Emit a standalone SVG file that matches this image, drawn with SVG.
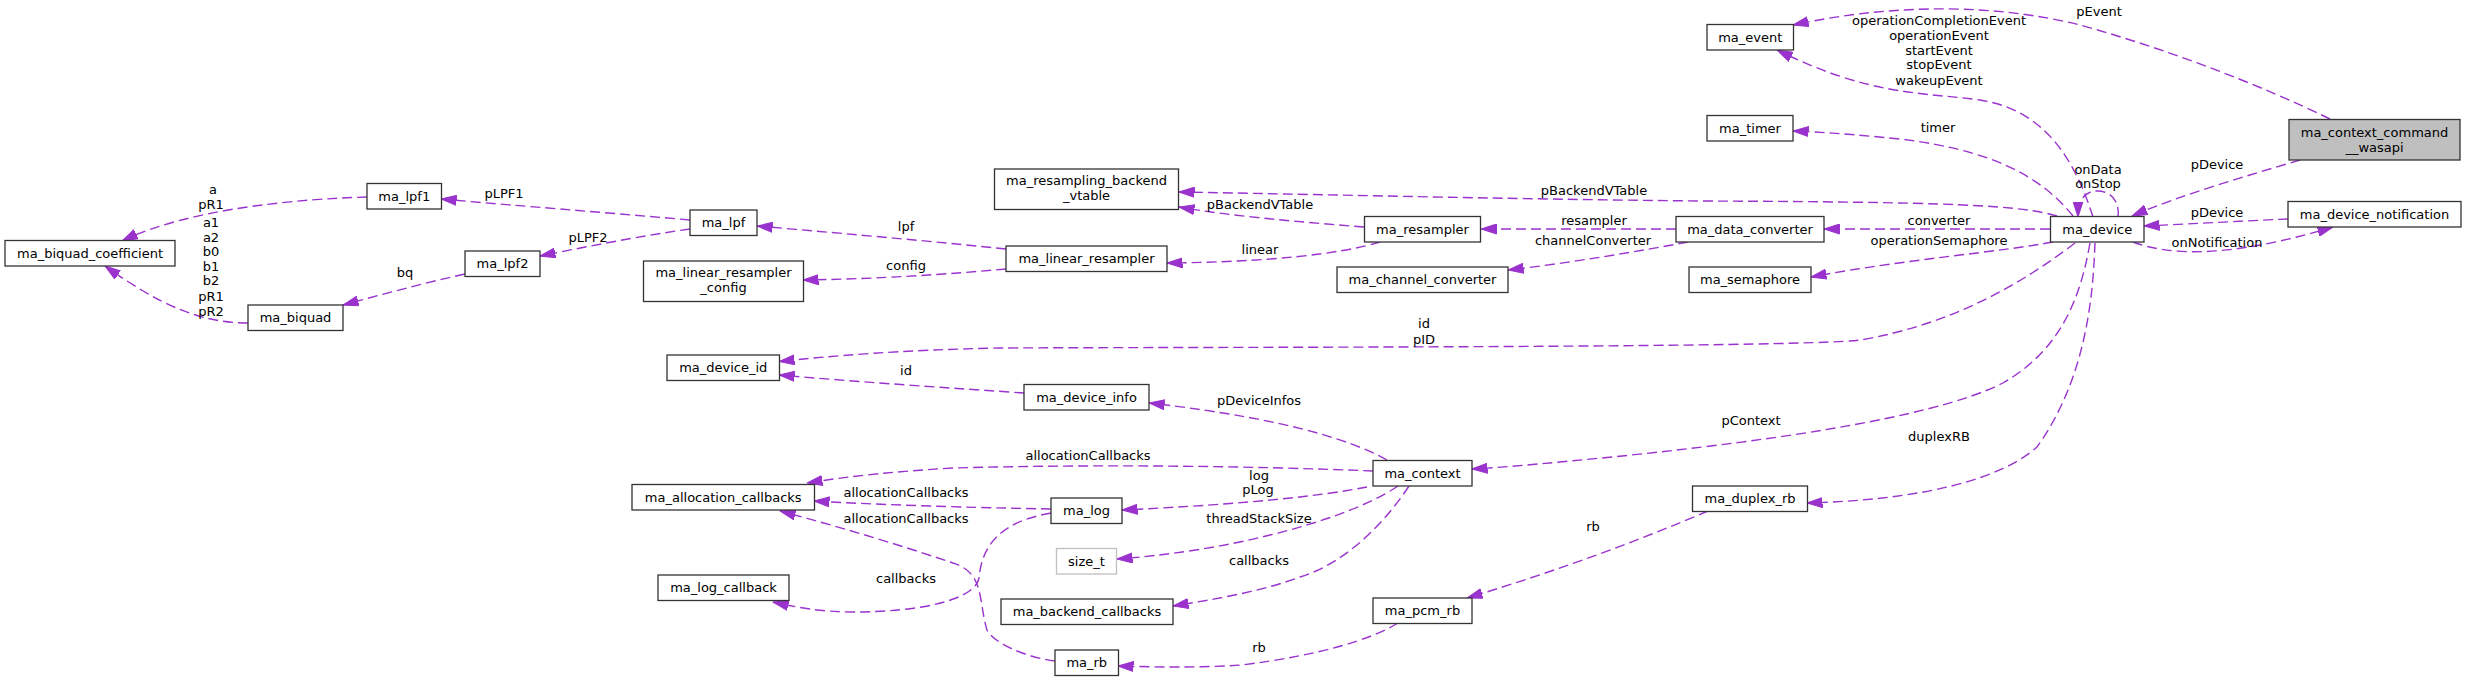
<svg xmlns="http://www.w3.org/2000/svg" width="2467" height="681" viewBox="0 0 2467 681">
<defs>
<style>
.n rect{fill:#fff;stroke:#333;stroke-width:1.3}
.n text,.l text{font-family:"DejaVu Sans","Liberation Sans",sans-serif;font-size:13px;text-anchor:middle;fill:#000}
.e path{fill:none;stroke:#9a32cd;stroke-width:1.4;stroke-dasharray:10,5;marker-end:url(#ah)}
</style>
<marker id="ah" markerWidth="16" markerHeight="11" refX="15.5" refY="5.5" orient="auto" markerUnits="userSpaceOnUse"><path d="M0,0.5 L15.5,5.5 L0,10.5 z" fill="#9a32cd" stroke="#9a32cd" stroke-width="1"/></marker>
</defs>
<rect width="2467" height="681" fill="#fff"/>
<g class="e" id="edges">
<path d="M367,197 C300,199 190,208 122,241"/>
<path d="M248,323 C200,323 160,305 105,266"/>
<path d="M465,274 C420,284 380,295 343,305"/>
<path d="M690,220 C600,212 520,206 441,199"/>
<path d="M690,229 C640,236 590,246 540,256"/>
<path d="M1006,249 C950,243 850,234 757,226"/>
<path d="M1006,269 C950,274 880,279 803,280"/>
<path d="M1364,227 C1300,222 1230,216 1179,207"/>
<path d="M1380,242 C1340,254 1270,262 1167,263"/>
<path d="M1676,229 L1481,229"/>
<path d="M1688,242 C1640,251 1570,263 1508,270"/>
<path d="M2050,229 L1824,229"/>
<path d="M2053,242 C2000,252 1900,260 1811,277"/>
<path d="M2057,216 C2020,205 1950,202 1700,201 C1500,199 1300,194 1179,192"/>
<path d="M2093,217 C2075,160 2045,110 1980,100 C1920,92 1870,96 1777,50"/>
<path d="M2073,216 C2040,175 1990,150 1900,139 C1850,134 1820,132 1793,131"/>
<path d="M2118,217 C2120,200 2110,191 2097,191 C2085,191 2078,200 2078,217"/>
<path d="M2330,119 C2260,85 2170,50 2080,25 C2000,5 1900,2 1793,25"/>
<path d="M2300,160 C2250,175 2180,195 2132,216"/>
<path d="M2288,219 C2240,221 2190,224 2144,226"/>
<path d="M2133,242 C2170,256 2230,258 2333,227"/>
<path d="M2075,243 C2020,285 1950,325 1860,340 C1800,348 1200,347 1000,348 C900,350 830,356 779,361.5"/>
<path d="M1024,393 C950,388 860,382 779,375"/>
<path d="M1387,460 C1360,445 1300,420 1149,403"/>
<path d="M2090,243 C2080,300 2060,350 2003,383 C1930,420 1750,443 1612,457 C1560,462 1510,467 1472,469"/>
<path d="M2095,243 C2093,300 2085,380 2037,447 C2000,480 1920,500 1807,503"/>
<path d="M1708,511 C1640,540 1560,570 1467,598"/>
<path d="M1398,623 C1370,640 1320,655 1242,665 C1200,668 1150,667 1118,666"/>
<path d="M1373,471 C1250,466 1100,464 953,468 C900,471 850,476 807,483"/>
<path d="M1051,509 C1000,508 900,506 814,501"/>
<path d="M1055,661 C1030,658 995,645 987,630 C978,600 985,573 953,563 C900,545 840,527 780,511"/>
<path d="M1051,513 C1000,522 982,545 979,578 C975,600 920,612 853,612 C820,612 795,607 773,602"/>
<path d="M1367,487 C1320,496 1250,504 1122,510"/>
<path d="M1398,486 C1370,505 1320,523 1270,535 C1220,548 1160,556 1117,559"/>
<path d="M1409,486 C1380,530 1340,565 1300,577 C1260,592 1210,600 1173,606"/>
</g>
<g class="l" id="edge-labels">
<text x="213" y="193.5">a</text><text x="211" y="208.5">pR1</text>
<text x="211" y="227">a1</text><text x="211" y="241.7">a2</text><text x="211" y="256.2">b0</text><text x="211" y="271">b1</text><text x="211" y="285.2">b2</text><text x="211" y="300.5">pR1</text><text x="211" y="315.5">pR2</text>
<text x="405" y="276.5">bq</text>
<text x="504" y="197.8">pLPF1</text>
<text x="588" y="241.8">pLPF2</text>
<text x="906" y="231.2">lpf</text>
<text x="906" y="269.5">config</text>
<text x="1260" y="208.5">pBackendVTable</text>
<text x="1260" y="253.5">linear</text>
<text x="1594" y="225.2">resampler</text>
<text x="1593" y="245.2">channelConverter</text>
<text x="1594" y="195.2">pBackendVTable</text>
<text x="1939" y="224.5">converter</text>
<text x="1939" y="245.2">operationSemaphore</text>
<text x="1938" y="132.2">timer</text>
<text x="1939" y="25.2">operationCompletionEvent</text><text x="1939" y="39.8">operationEvent</text><text x="1939" y="55.2">startEvent</text><text x="1939" y="69.2">stopEvent</text><text x="1939" y="84.5">wakeupEvent</text>
<text x="2098" y="173.5">onData</text><text x="2098" y="188.2">onStop</text>
<text x="2099" y="16.2">pEvent</text>
<text x="2217" y="168.5">pDevice</text>
<text x="2217" y="217.2">pDevice</text>
<text x="2217" y="246.8">onNotification</text>
<text x="1424" y="328">id</text><text x="1424" y="343.5">pID</text>
<text x="906" y="375.2">id</text>
<text x="1259" y="404.5">pDeviceInfos</text>
<text x="1751" y="425.2">pContext</text>
<text x="1939" y="441.2">duplexRB</text>
<text x="1593" y="531.2">rb</text>
<text x="1259" y="652.2">rb</text>
<text x="1088" y="460.2">allocationCallbacks</text>
<text x="906" y="497.2">allocationCallbacks</text>
<text x="906" y="523.2">allocationCallbacks</text>
<text x="906" y="583.2">callbacks</text>
<text x="1259" y="479.5">log</text><text x="1258" y="493.5">pLog</text>
<text x="1259" y="522.5">threadStackSize</text>
<text x="1259" y="565.2">callbacks</text>
</g>
<g class="n" id="ma_biquad_coefficient"><rect x="5" y="240.5" width="170" height="25.5"/><text x="90" y="257.75">ma_biquad_coefficient</text></g>
<g class="n" id="ma_lpf1"><rect x="367" y="183.5" width="74.5" height="25.5"/><text x="404.25" y="200.75">ma_lpf1</text></g>
<g class="n" id="ma_biquad"><rect x="248" y="305" width="95" height="25.5"/><text x="295.5" y="322.25">ma_biquad</text></g>
<g class="n" id="ma_lpf"><rect x="690" y="210" width="67" height="25.5"/><text x="723.5" y="227.25">ma_lpf</text></g>
<g class="n" id="ma_lpf2"><rect x="465" y="251" width="75" height="25.5"/><text x="502.5" y="268.25">ma_lpf2</text></g>
<g class="n" id="ma_linear_resampler_config"><rect x="643.5" y="261" width="160" height="40.5"/><text x="723.5" y="277.25">ma_linear_resampler</text><text x="723.5" y="292.25">_config</text></g>
<g class="n" id="ma_device_id"><rect x="667" y="355" width="112.5" height="25.5"/><text x="723.25" y="372.25">ma_device_id</text></g>
<g class="n" id="ma_resampling_backend_vtable"><rect x="994.5" y="169" width="184" height="40.5"/><text x="1086.5" y="185.25">ma_resampling_backend</text><text x="1086.5" y="200.25">_vtable</text></g>
<g class="n" id="ma_linear_resampler"><rect x="1006" y="246" width="161" height="25.5"/><text x="1086.5" y="263.25">ma_linear_resampler</text></g>
<g class="n" id="ma_resampler"><rect x="1364.5" y="216.5" width="116" height="25.5"/><text x="1422.5" y="233.75">ma_resampler</text></g>
<g class="n" id="ma_channel_converter"><rect x="1337" y="267" width="171" height="25.5"/><text x="1422.5" y="284.25">ma_channel_converter</text></g>
<g class="n" id="ma_device_info"><rect x="1024" y="384.5" width="125" height="25.5"/><text x="1086.5" y="401.75">ma_device_info</text></g>
<g class="n" id="ma_data_converter"><rect x="1676" y="216.5" width="148" height="25.5"/><text x="1750" y="233.75">ma_data_converter</text></g>
<g class="n" id="ma_semaphore"><rect x="1689" y="267" width="122" height="25.5"/><text x="1750" y="284.25">ma_semaphore</text></g>
<g class="n" id="ma_event"><rect x="1707" y="24.5" width="86.5" height="25.5"/><text x="1750.25" y="41.75">ma_event</text></g>
<g class="n" id="ma_timer"><rect x="1707" y="115.5" width="86" height="25.5"/><text x="1750" y="132.75">ma_timer</text></g>
<g class="n" id="ma_device"><rect x="2050.5" y="216.5" width="93.5" height="25.5"/><text x="2097.25" y="233.75">ma_device</text></g>
<g class="n" id="ma_context_command__wasapi"><rect x="2289" y="119.5" width="171" height="40.5" style="fill:#bfbfbf"/><text x="2374.5" y="136.75">ma_context_command</text><text x="2374.5" y="151.75">__wasapi</text></g>
<g class="n" id="ma_device_notification"><rect x="2288" y="201.5" width="173" height="25.5"/><text x="2374.5" y="218.75">ma_device_notification</text></g>
<g class="n" id="ma_allocation_callbacks"><rect x="632" y="484.5" width="182.5" height="25.5"/><text x="723.25" y="501.75">ma_allocation_callbacks</text></g>
<g class="n" id="ma_log"><rect x="1051" y="498" width="71" height="25.5"/><text x="1086.5" y="515.25">ma_log</text></g>
<g class="n" id="size_t"><rect x="1056.5" y="548.5" width="60" height="25.5" style="stroke:#bfbfbf"/><text x="1086.5" y="565.75">size_t</text></g>
<g class="n" id="ma_log_callback"><rect x="658" y="575" width="131" height="25.5"/><text x="723.5" y="592.25">ma_log_callback</text></g>
<g class="n" id="ma_backend_callbacks"><rect x="1001" y="599" width="172" height="25.5"/><text x="1087" y="616.25">ma_backend_callbacks</text></g>
<g class="n" id="ma_rb"><rect x="1055" y="650" width="63.5" height="25.5"/><text x="1086.75" y="667.25">ma_rb</text></g>
<g class="n" id="ma_context"><rect x="1373" y="460.5" width="99" height="25.5"/><text x="1422.5" y="477.75">ma_context</text></g>
<g class="n" id="ma_pcm_rb"><rect x="1373" y="598" width="99" height="25.5"/><text x="1422.5" y="615.25">ma_pcm_rb</text></g>
<g class="n" id="ma_duplex_rb"><rect x="1692.5" y="486" width="115" height="25.5"/><text x="1750" y="503.25">ma_duplex_rb</text></g>
</svg>
